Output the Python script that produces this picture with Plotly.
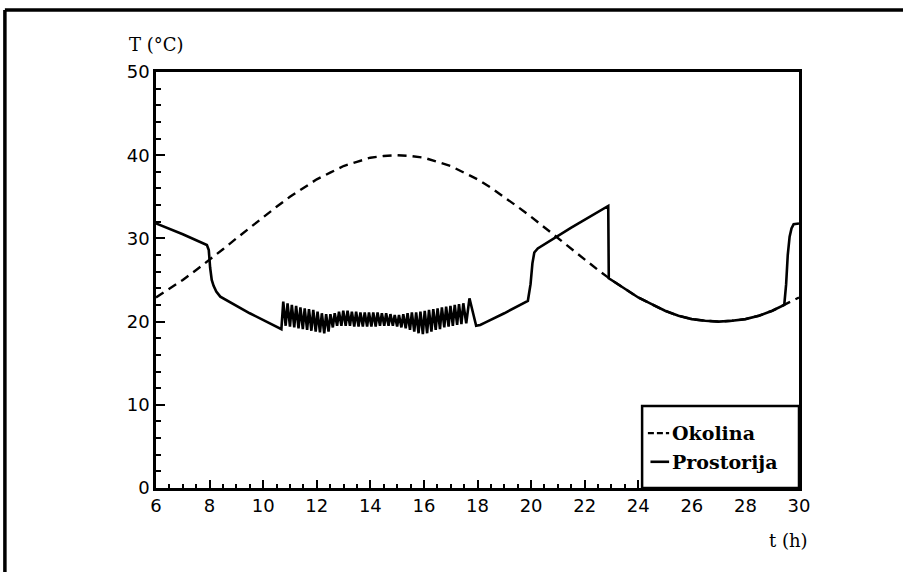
import plotly.graph_objects as go

# Ambient temperature (Okolina), read every half hour
amb_t = [6.0, 6.5, 7.0, 7.5, 8.0, 8.5, 9.0, 9.5, 10.0, 10.5, 11.0, 11.5, 12.0, 12.5,
         13.0, 13.5, 14.0, 14.5, 15.0, 15.5, 16.0, 16.5, 17.0, 17.5, 18.0, 18.5,
         19.0, 19.5, 20.0, 20.5, 21.0, 21.5, 22.0, 22.5, 23.0, 23.5, 24.0, 24.5,
         25.0, 25.5, 26.0, 26.5, 27.0, 27.5, 28.0, 28.5, 29.0, 29.5, 30.0]
amb_T = [22.9, 23.9, 25.0, 26.2, 27.4, 28.7, 30.0, 31.3, 32.6, 33.8, 35.0, 36.1, 37.1, 37.9,
         38.7, 39.2, 39.7, 39.9, 40.0, 39.9, 39.7, 39.2, 38.7, 37.9, 37.1, 36.1,
         35.0, 33.8, 32.6, 31.3, 30.0, 28.7, 27.4, 26.2, 25.0, 23.9, 22.9, 22.1,
         21.3, 20.7, 20.3, 20.1, 20.0, 20.1, 20.3, 20.7, 21.3, 22.1, 22.9]

# Room temperature (Prostorija): morning cool-down
room_pre_t = [6.0, 7.0, 7.9, 7.97, 8.02, 8.08, 8.15, 8.25, 8.4, 9.5, 10.68]
room_pre_T = [31.8, 30.5, 29.2, 28.6, 26.5, 25.0, 24.3, 23.6, 23.0, 21.0, 19.1]

# Thermostat cycling during the day: peaks and troughs
osc_peak_t = [10.75, 10.91, 11.07, 11.23, 11.39, 11.55, 11.71, 11.87, 12.03, 12.19,
              12.35, 12.51, 12.67, 12.83, 12.99, 13.15, 13.31, 13.47, 13.63, 13.79,
              13.95, 14.11, 14.27, 14.43, 14.59, 14.75, 14.91, 15.07, 15.23, 15.39,
              15.55, 15.71, 15.87, 16.03, 16.19, 16.35, 16.51, 16.67, 16.83, 16.99,
              17.15, 17.31, 17.47, 17.70]
osc_peak_T = [22.4, 22.2, 22.0, 21.9, 21.7, 21.6, 21.5, 21.4, 21.2, 21.0,
              20.9, 20.9, 21.0, 21.2, 21.3, 21.3, 21.2, 21.2, 21.1, 21.1,
              21.1, 21.1, 21.1, 21.0, 21.0, 20.9, 20.8, 20.8, 20.9, 21.0,
              21.1, 21.1, 21.2, 21.3, 21.4, 21.5, 21.6, 21.7, 21.8, 21.9,
              22.0, 22.1, 22.2, 22.8]
osc_trough_t = [10.84, 11.00, 11.16, 11.32, 11.48, 11.64, 11.80, 11.96, 12.12, 12.28,
                12.44, 12.60, 12.76, 12.92, 13.08, 13.24, 13.40, 13.56, 13.72, 13.88,
                14.04, 14.20, 14.36, 14.52, 14.68, 14.84, 15.00, 15.16, 15.32, 15.48,
                15.64, 15.80, 15.96, 16.12, 16.28, 16.44, 16.60, 16.76, 16.92, 17.08,
                17.24, 17.40, 17.58]
osc_trough_T = [19.5, 19.4, 19.3, 19.2, 19.1, 19.0, 18.9, 18.8, 18.7, 18.6,
                18.8, 19.3, 19.5, 19.5, 19.5, 19.5, 19.4, 19.4, 19.4, 19.4,
                19.4, 19.4, 19.5, 19.5, 19.5, 19.5, 19.4, 19.3, 19.2, 19.0,
                18.8, 18.6, 18.5, 18.6, 18.8, 19.0, 19.1, 19.3, 19.4, 19.5,
                19.6, 19.7, 19.8]

# Evening and night
room_post_t = [17.95, 18.1, 18.3, 19.0, 19.88, 19.98, 20.05, 20.12, 20.25, 21.5,
               22.88, 22.9, 23.0, 23.5, 24.0, 24.5, 25.0, 25.5, 26.0, 26.5, 27.0,
               27.5, 28.0, 28.5, 29.0, 29.45, 29.52, 29.58, 29.65, 29.72, 29.8, 30.0]
room_post_T = [19.5, 19.6, 19.9, 21.0, 22.5, 24.5, 27.0, 28.3, 28.8, 31.3,
               33.9, 25.2, 25.0, 23.9, 22.9, 22.1, 21.3, 20.7, 20.3, 20.1, 20.0,
               20.1, 20.3, 20.7, 21.3, 22.0, 24.5, 28.0, 30.2, 31.2, 31.7, 31.8]

x_ticks = [6, 8, 10, 12, 14, 16, 18, 20, 22, 24, 26, 28, 30]
y_ticks = [0, 10, 20, 30, 40, 50]

# assemble the room curve
osc_t, osc_T = [], []
for i, (pt, pT) in enumerate(zip(osc_peak_t, osc_peak_T)):
    osc_t.append(pt)
    osc_T.append(pT)
    if i < len(osc_trough_t):
        osc_t.append(osc_trough_t[i])
        osc_T.append(osc_trough_T[i])
room_t = room_pre_t + osc_t + room_post_t
room_T = room_pre_T + osc_T + room_post_T

fig = go.Figure()
fig.add_trace(go.Scatter(x=amb_t, y=amb_T, mode="lines", name="Okolina",
                         line=dict(color="black", width=2.4, dash="9px,6px"),
                         showlegend=False))
fig.add_trace(go.Scatter(x=room_t, y=room_T, mode="lines", name="Prostorija",
                         line=dict(color="black", width=2.6),
                         showlegend=False))

tick_font = dict(family="DejaVu Sans", size=18, color="black")
label_font = dict(family="DejaVu Serif", size=18, color="black")
legend_font = dict(family="DejaVu Serif", size=19, color="black", weight="bold")

fig.update_xaxes(range=[6, 30], tickvals=x_ticks, ticks="inside", ticklen=8, tickwidth=2,
                 tickcolor="black", showline=True, linewidth=2.5, linecolor="black",
                 mirror=True, showgrid=False, zeroline=False, tickfont=tick_font,
                 minor=dict(ticks="inside", ticklen=4, tickwidth=1.5, dtick=0.5,
                            tickcolor="black", showgrid=False))
fig.update_yaxes(range=[0, 50], tickvals=y_ticks, ticks="inside", ticklen=9, tickwidth=2,
                 tickcolor="black", showline=True, linewidth=2.5, linecolor="black",
                 mirror=True, showgrid=False, zeroline=False, tickfont=tick_font,
                 minor=dict(ticks="inside", ticklen=5, tickwidth=1.5, dtick=2,
                            tickcolor="black", showgrid=False))

shapes = [
    # outer page frame (top and left edges)
    dict(type="line", xref="paper", yref="paper", x0=-0.235, x1=1.17, y0=1.149, y1=1.149,
         line=dict(color="black", width=3.5)),
    dict(type="line", xref="paper", yref="paper", x0=-0.235, x1=-0.235, y0=1.149, y1=-0.21,
         line=dict(color="black", width=3.5)),
    # legend box
    dict(type="rect", xref="paper", yref="paper", x0=0.756, x1=1.0, y0=0.0, y1=0.197,
         line=dict(color="black", width=2.5), fillcolor="white"),
    dict(type="line", xref="paper", yref="paper", x0=0.765, x1=0.798, y0=0.132, y1=0.132,
         line=dict(color="black", width=2.2, dash="6px,3px")),
    dict(type="line", xref="paper", yref="paper", x0=0.769, x1=0.798, y0=0.063, y1=0.063,
         line=dict(color="black", width=2.6)),
]

annotations = [
    dict(text="Okolina", xref="paper", yref="paper", x=0.80, y=0.132, xanchor="left",
         yanchor="middle", showarrow=False, font=legend_font),
    dict(text="Prostorija", xref="paper", yref="paper", x=0.80, y=0.063, xanchor="left",
         yanchor="middle", showarrow=False, font=legend_font),
    dict(text="T (°C)", xref="paper", yref="paper", x=-0.045, y=1.065, xanchor="left",
         yanchor="middle", showarrow=False, font=label_font),
    dict(text="t (h)", xref="paper", yref="paper", x=0.95, y=-0.125, xanchor="left",
         yanchor="middle", showarrow=False, font=label_font),
]

fig.update_layout(width=903, height=572, margin=dict(l=156, r=104, t=72, b=84),
                  paper_bgcolor="white", plot_bgcolor="white",
                  shapes=shapes, annotations=annotations)

fig.write_html("out.html")
